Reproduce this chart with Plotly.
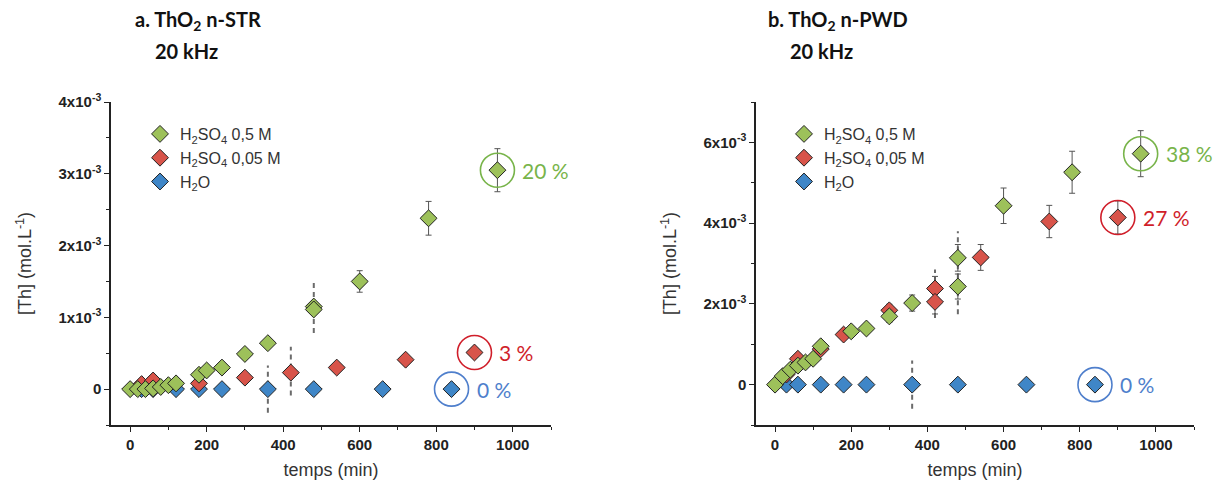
import numpy as np
import plotly.graph_objects as go

# ---------------- DATA (concentrations in 1e-3 mol/L) ----------------
# Panel a: ThO2 n-STR
a_green_t = [0, 20, 40, 60, 80, 100, 120, 180, 200, 240, 300, 360, 480, 480, 600, 780, 960]
a_green_c = [0, 0, 0, 0.01, 0.03, 0.055, 0.08, 0.20, 0.26, 0.30, 0.49, 0.64, 1.15, 1.11, 1.50, 2.38, 3.05]
a_green_e = [0, 0, 0, 0.01, 0.01, 0.01, 0.01, 0.01, 0.01, 0.01, 0.01, 0.01, 0.05, 0.05, 0.15, 0.235, 0.30]
a_red_t = [30, 60, 180, 300, 420, 540, 720, 900]
a_red_c = [0.07, 0.12, 0.08, 0.16, 0.23, 0.30, 0.41, 0.51]
a_red_e = [0.01, 0.02, 0.01, 0.01, 0.01, 0, 0, 0]
a_blue_t = [30, 60, 120, 180, 240, 360, 480, 660, 840]
a_blue_c = [0, 0, 0, 0, 0, 0, 0, 0, 0]
a_dash_t = [360, 420, 480]
a_dash_c = [0, 0.25, 1.13]
a_dash_e = [0.33, 0.34, 0.35]

# Panel b: ThO2 n-PWD
b_green_t = [0, 20, 40, 60, 80, 100, 120, 200, 240, 300, 360, 480, 480, 600, 780, 960]
b_green_c = [0, 0.21, 0.37, 0.47, 0.55, 0.64, 0.95, 1.32, 1.39, 1.69, 2.02, 3.14, 2.43, 4.43, 5.26, 5.72]
b_green_e = [0, 0, 0, 0.02, 0.02, 0.02, 0.05, 0.05, 0.10, 0.15, 0.20, 0.33, 0.31, 0.44, 0.52, 0.57]
b_red_t = [30, 60, 120, 180, 300, 420, 420, 540, 720, 900]
b_red_c = [0.25, 0.64, 0.88, 1.24, 1.84, 2.38, 2.05, 3.15, 4.04, 4.14]
b_red_e = [0, 0, 0.03, 0.05, 0.15, 0.30, 0.30, 0.32, 0.40, 0.41]
b_blue_t = [30, 60, 120, 180, 240, 360, 480, 660, 840]
b_blue_c = [0, 0, 0, 0, 0, 0, 0, 0, 0]
b_dash_t = [360, 420, 480]
b_dash_c = [0, 2.25, 2.77]
b_dash_e = [0.6, 0.6, 1.03]

# final yields (circled points)
a_yield_labels = ["20 %", "3 %", "0 %"]
a_yield_t = [960, 900, 840]
a_yield_c = [3.05, 0.51, 0]
b_yield_labels = ["38 %", "27 %", "0 %"]
b_yield_t = [960, 900, 840]
b_yield_c = [5.72, 4.14, 0]

series_names = ["H<sub>2</sub>SO<sub>4</sub> 0,5 M", "H<sub>2</sub>SO<sub>4</sub> 0,05 M", "H<sub>2</sub>O"]

a_yticks = [0, 1, 2, 3, 4]
a_yticktext = ["0", "1x10<sup>-3</sup>", "2x10<sup>-3</sup>", "3x10<sup>-3</sup>", "4x10<sup>-3</sup>"]
b_yticks = [0, 2, 4, 6]
b_yticktext = ["0", "2x10<sup>-3</sup>", "4x10<sup>-3</sup>", "6x10<sup>-3</sup>"]
xticks = [0, 200, 400, 600, 800, 1000]

# ---------------- STYLE ----------------
GREEN = "#9DC15A"
RED = "#D8544A"
BLUE = "#3F86C7"
C_GREEN = "#78B44A"
C_RED = "#D01E2A"
C_BLUE = "#4F7FCC"
SCALE = 1e-3
FONT = "Liberation Sans, Arial, sans-serif"
TFONT = "Lato, Open Sans, sans-serif"

# page body margin is removed by the post script, so the figure fills the window
W, H, OFF = 1216, 481, 0


def fx(p):
    return (p - OFF) / W


def fy(p):
    return 1 - (p - OFF) / H


fig = go.Figure()


def add_panel(xa, ya, legend, g, r, b, dash):
    # dashed error bars (drawn beneath the markers)
    for t, c, e in zip(*dash):
        fig.add_trace(go.Scatter(
            x=[t, t], y=[(c - e) * SCALE, (c + e) * SCALE], mode="lines",
            line=dict(color="#6b6b6b", width=2, dash="5px,4px"),
            xaxis=xa, yaxis=ya, showlegend=False, hoverinfo="skip"))
    series = [(b, BLUE, series_names[2]), (r, RED, series_names[1]), (g, GREEN, series_names[0])]
    for data, col, name in series:
        t, c = data[0], data[1]
        err = data[2] if len(data) > 2 else None
        fig.add_trace(go.Scatter(
            x=t, y=np.array(c) * SCALE, mode="markers", name=name,
            marker=dict(symbol="diamond", size=13, color=col,
                        line=dict(color="#222222", width=1)),
            error_y=dict(type="data", array=np.array(err) * SCALE, color="#555555",
                         thickness=1, width=3, visible=True) if err is not None else None,
            xaxis=xa, yaxis=ya, legend=legend))


add_panel("x", "y", "legend",
          (a_green_t, a_green_c, a_green_e), (a_red_t, a_red_c, a_red_e),
          (a_blue_t, a_blue_c), (a_dash_t, a_dash_c, a_dash_e))
add_panel("x2", "y2", "legend2",
          (b_green_t, b_green_c, b_green_e), (b_red_t, b_red_c, b_red_e),
          (b_blue_t, b_blue_c), (b_dash_t, b_dash_c, b_dash_e))

# circles + yield labels
shapes = []
annotations = []
for xr, yr, ts, cs, labs in [("x", "y", a_yield_t, a_yield_c, a_yield_labels),
                             ("x2", "y2", b_yield_t, b_yield_c, b_yield_labels)]:
    for t, c, lab, col in zip(ts, cs, labs, [C_GREEN, C_RED, C_BLUE]):
        shapes.append(dict(type="circle", xref=xr, yref=yr, xsizemode="pixel", ysizemode="pixel",
                           xanchor=t, yanchor=c * SCALE, x0=-17, x1=17, y0=-17, y1=17,
                           line=dict(color=col, width=1.6)))
        annotations.append(dict(x=t, y=c * SCALE, xref=xr, yref=yr, text=lab, showarrow=False,
                                xanchor="left", yanchor="middle", xshift=23,
                                font=dict(family=TFONT, size=21, color=col)))

# panel titles
for x0, lab in [(fx(133), "a. ThO<sub>2</sub> n-STR"), (fx(766), "b. ThO<sub>2</sub> n-PWD")]:
    annotations.append(dict(x=x0, y=fy(21), xref="paper", yref="paper", text="<b>" + lab + "</b>",
                            showarrow=False, xanchor="left", yanchor="middle",
                            font=dict(family=TFONT, size=20, color="#111111")))
for x0 in [fx(153), fx(788)]:
    annotations.append(dict(x=x0, y=fy(51), xref="paper", yref="paper", text="<b>20 kHz</b>",
                            showarrow=False, xanchor="left", yanchor="middle",
                            font=dict(family=TFONT, size=20, color="#111111")))

axis_common = dict(showline=True, linecolor="#222222", linewidth=1.5, ticks="outside", ticklen=5,
                   tickwidth=1.3, tickcolor="#222222", showgrid=False, zeroline=False, automargin=False,
                   tickfont=dict(family=FONT, size=15, color="#222222", weight="bold"))

xa_common = dict(axis_common, range=[-50, 1100], tickmode="array", tickvals=xticks,
                 ticktext=[str(v) for v in xticks],
                 minor=dict(tickmode="linear", tick0=0, dtick=100, ticks="outside", ticklen=3,
                            tickcolor="#222222"),
                 title=dict(text="temps (min)", font=dict(family=FONT, size=18, color="#333333"),
                            standoff=12))

ya_title = dict(text="[Th] (mol.L<sup>-1</sup>)", font=dict(family=FONT, size=18, color="#333333"),
                standoff=22)

D_TOP = fy(102)
D_BOT = fy(425)

fig.update_layout(
    width=W, height=H, margin=dict(l=0, r=0, t=0, b=0, autoexpand=False),
    paper_bgcolor="white", plot_bgcolor="white", showlegend=True,
    xaxis=dict(xa_common, domain=[fx(111), fx(551)], anchor="y"),
    xaxis2=dict(xa_common, domain=[fx(756), fx(1194)], anchor="y2"),
    yaxis=dict(axis_common, domain=[D_BOT, D_TOP], anchor="x", range=[-0.5e-3, 4e-3],
               tickmode="array", tickvals=[v * SCALE for v in a_yticks], ticktext=a_yticktext,
               minor=dict(tickmode="linear", tick0=0, dtick=0.5e-3, ticks="outside", ticklen=3,
                          tickcolor="#222222"),
               title=ya_title),
    yaxis2=dict(axis_common, domain=[D_BOT, D_TOP], anchor="x2", range=[-1e-3, 7e-3],
                tickmode="array", tickvals=[v * SCALE for v in b_yticks], ticktext=b_yticktext,
                minor=dict(tickmode="linear", tick0=0, dtick=1e-3, ticks="outside", ticklen=3,
                           tickcolor="#222222"),
                title=ya_title),
    legend=dict(x=fx(140), y=fy(117), xanchor="left", yanchor="top", traceorder="reversed",
                bgcolor="rgba(0,0,0,0)", font=dict(family=FONT, size=16, color="#333333")),
    legend2=dict(x=fx(784), y=fy(117), xanchor="left", yanchor="top", traceorder="reversed",
                 bgcolor="rgba(0,0,0,0)", font=dict(family=FONT, size=16, color="#333333")),
    shapes=shapes, annotations=annotations,
)

fig.write_html("out.html", config={"displayModeBar": False},
               post_script="document.body.style.margin='0';document.body.style.overflow='hidden';")
